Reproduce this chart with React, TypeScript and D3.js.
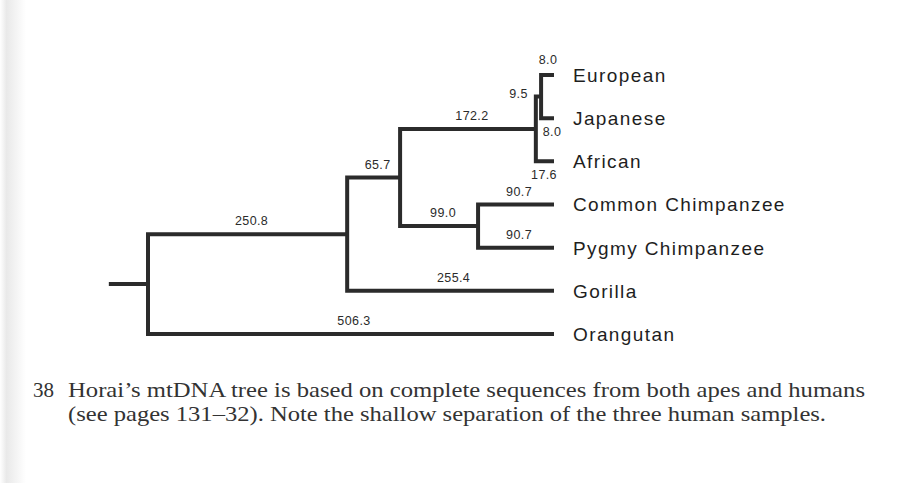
import React, { useRef, useEffect } from "react";
import * as d3 from "d3";

// tree topology, flat (stratify keeps this order for the children)
const nodeIds = [
  "root",
  "n1",
  "n2",
  "n3",
  "n4",
  "chimps",
  "European",
  "Japanese",
  "African",
  "Common Chimpanzee",
  "Pygmy Chimpanzee",
  "Gorilla",
  "Orangutan",
];
const parentIds = ["", "root", "n1", "n2", "n3", "n2", "n4", "n4", "n3", "chimps", "chimps", "n1", "root"];
const branchLengths = [null, 250.8, 65.7, 172.2, 9.5, 99.0, 8.0, 8.0, 17.6, 90.7, 90.7, 255.4, 506.3];
// the figure is not drawn to scale: column of each node, 0 = root, 100 = tips
const drawnDepth = [0, 49.3, 62.4, 96.0, 97.3, 81.7, 100, 100, 100, 100, 100, 100, 100];
const rootStub = -9.2;
// where the length label goes for the tiny human branches
const labelSpot: Record<string, string> = {
  n4: "left",
  European: "top",
  Japanese: "bottom",
  African: "bottom",
};

const captionNumber = "38";
const captionLines = [
  "Horai\u2019s mtDNA tree is based on complete sequences from both apes and humans",
  "(see pages 131\u201332). Note the shallow separation of the three human samples.",
];

const W = 909;
const H = 483;

type Row = { id: string; parent: string; len: number | null; col: number };

const App: React.FC = () => {
  const ref = useRef<SVGSVGElement | null>(null);

  useEffect(() => {
    const svg = d3.select(ref.current);
    svg.selectAll("*").remove();

    const rows: Row[] = nodeIds.map((id, i) => ({
      id,
      parent: parentIds[i],
      len: branchLengths[i],
      col: drawnDepth[i],
    }));
    const root = d3
      .stratify<Row>()
      .id((d) => d.id)
      .parentId((d) => (d.parent === "" ? null : d.parent))(rows);

    const leaves = root.leaves().map((d) => d.data.id);
    const x = d3.scaleLinear().domain([0, 100]).range([148, 552]);
    const y = d3.scalePoint<string>().domain(leaves).range([75, 334]);

    const pos = new Map<string, { x: number; y: number }>();
    root.eachAfter((n) => {
      let yy: number;
      if (!n.children) yy = y(n.data.id)!;
      else {
        const a = pos.get(n.children[0].data.id)!.y;
        const b = pos.get(n.children[n.children.length - 1].data.id)!.y;
        yy = (a + b) / 2;
      }
      pos.set(n.data.id, { x: x(n.data.col), y: yy });
    });

    // faint shadow of the scanned page edge
    const grad = svg
      .append("defs")
      .append("linearGradient")
      .attr("id", "edge")
      .attr("x1", 0)
      .attr("x2", 1);
    grad.append("stop").attr("offset", 0).attr("stop-color", "#ffffff");
    grad.append("stop").attr("offset", 0.25).attr("stop-color", "#e9e9e9");
    grad.append("stop").attr("offset", 1).attr("stop-color", "#ffffff");
    svg.append("rect").attr("width", W).attr("height", H).attr("fill", "#fff");
    svg.append("rect").attr("x", 0).attr("width", 26).attr("height", H).attr("fill", "url(#edge)");

    const ink = "#2b2b2b";
    const g = svg.append("g");

    // branches
    let d = "";
    root.each((n) => {
      const p = pos.get(n.data.id)!;
      const px = n.parent ? pos.get(n.parent.data.id)!.x : x(rootStub);
      d += `M${px},${p.y}H${p.x}`;
      if (n.children) {
        const a = pos.get(n.children[0].data.id)!.y;
        const b = pos.get(n.children[n.children.length - 1].data.id)!.y;
        d += `M${p.x},${a}V${b}`;
      }
    });
    g.append("path")
      .attr("d", d)
      .attr("fill", "none")
      .attr("stroke", ink)
      .attr("stroke-width", 4)
      .attr("stroke-linecap", "square");

    // branch length labels
    root.each((n) => {
      if (!n.parent || n.data.len == null) return;
      const p = pos.get(n.data.id)!;
      const px = pos.get(n.parent.data.id)!.x;
      const spot = labelSpot[n.data.id];
      let lx = (px + p.x) / 2 + 4;
      let ly = p.y - 9;
      let anchor = "middle";
      if (spot === "left") {
        lx = px - 8;
        ly = p.y + 1;
        anchor = "end";
      } else if (spot === "top") {
        lx = p.x - 4;
        ly = p.y - 11;
      } else if (spot === "bottom") {
        lx = p.x - 4 + (n.data.id === "Japanese" ? 4 : -4);
        ly = p.y + 18;
      }
      g.append("text")
        .attr("x", lx)
        .attr("y", ly)
        .attr("text-anchor", anchor)
        .attr("font-family", "Liberation Sans, Arial, sans-serif")
        .attr("font-size", 12.5)
        .attr("letter-spacing", "0.4px")
        .attr("fill", ink)
        .text(n.data.len.toFixed(1));
    });

    // tip names
    root.leaves().forEach((n) => {
      const p = pos.get(n.data.id)!;
      g.append("text")
        .attr("x", p.x + 21)
        .attr("y", p.y)
        .attr("dy", "0.36em")
        .attr("font-family", "Liberation Sans, Arial, sans-serif")
        .attr("font-size", 19)
        .attr("letter-spacing", "1.4px")
        .attr("fill", "#1e1e1e")
        .text(n.data.id);
    });

    // caption
    const cap = svg
      .append("g")
      .attr("font-family", "Liberation Serif, Times New Roman, serif")
      .attr("font-size", 21)
      .attr("fill", "#333");
    cap.append("text").attr("x", 33).attr("y", 397).text(captionNumber);
    const capLens = [797, 758];
    captionLines.forEach((t, i) => {
      cap
        .append("text")
        .attr("x", 68)
        .attr("y", 397 + i * 24)
        .attr("textLength", capLens[i])
        .attr("lengthAdjust", "spacingAndGlyphs")
        .text(t);
    });
  }, []);

  return (
    <svg
      ref={ref}
      width={W}
      height={H}
      style={{ position: "absolute", left: 0, top: 0, display: "block" }}
    />
  );
};

export default App;
